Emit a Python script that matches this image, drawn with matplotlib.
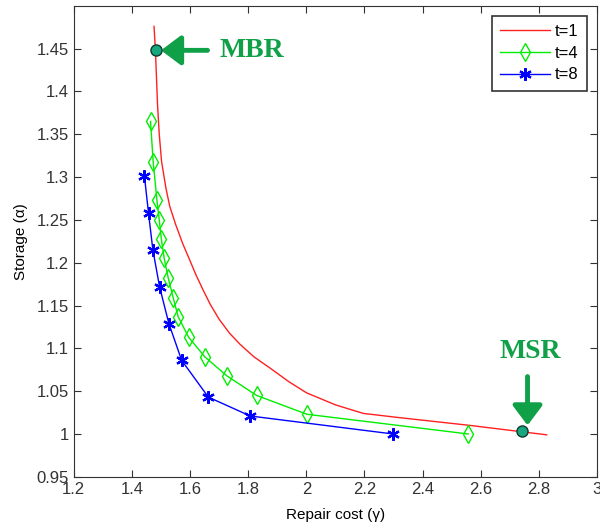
import matplotlib.pyplot as plt
import numpy as np

plt.rcParams['font.family'] = ['Liberation Sans', 'DejaVu Sans']

# t=1 tradeoff curve
t1_x = [1.476, 1.481, 1.484, 1.488, 1.494, 1.502, 1.517, 1.530, 1.550, 1.575,
        1.599, 1.620, 1.645, 1.670, 1.700, 1.735, 1.771, 1.820, 1.875, 1.940,
        2.001, 2.100, 2.196, 2.322, 2.563, 2.827]
t1_y = [1.476, 1.447, 1.420, 1.385, 1.350, 1.318, 1.287, 1.266, 1.245, 1.222,
        1.203, 1.186, 1.168, 1.151, 1.134, 1.118, 1.105, 1.090, 1.077, 1.061,
        1.048, 1.034, 1.024, 1.019, 1.010, 0.999]

# t=4
t4_x = [1.464, 1.473, 1.486, 1.494, 1.501, 1.511, 1.525, 1.542, 1.559, 1.595,
        1.651, 1.726, 1.829, 2.002, 2.557]
t4_y = [1.365, 1.318, 1.273, 1.250, 1.228, 1.205, 1.182, 1.159, 1.137, 1.113,
        1.090, 1.068, 1.045, 1.023, 1.000]

# t=8
t8_x = [1.443, 1.457, 1.472, 1.495, 1.527, 1.571, 1.663, 1.807, 2.298]
t8_y = [1.301, 1.258, 1.215, 1.172, 1.129, 1.086, 1.043, 1.021, 1.000]

mbr = (1.482, 1.448)
msr = (2.741, 1.004)
ann_green = '#10a048'

fig = plt.figure(figsize=(6.0, 5.28), dpi=100)
ax = fig.add_axes([0.123, 0.097, 0.872, 0.892])

ax.plot(t1_x, t1_y, color='#ff2020', lw=1.0, label='t=1')
ax.plot(t4_x, t4_y, color='#00ee00', lw=1.0, marker='d', ms=9, mfc='none',
        mew=1.0, label='t=4')
ax.plot(t8_x, t8_y, color='blue', lw=1.0, marker=(6, 2, 0), ms=9, mew=1.6,
        label='t=8')

ax.plot(*mbr, 'o', ms=8, mfc='#17a67e', mec='#0b3b2c', mew=1.0, zorder=5)
ax.plot(*msr, 'o', ms=8, mfc='#17a67e', mec='#0b3b2c', mew=1.0, zorder=5)

arrow = dict(arrowstyle='-|>,head_width=0.45,head_length=0.6',
             mutation_scale=20, color=ann_green, lw=3.5, shrinkA=0, shrinkB=0)
ax.annotate('', xy=(mbr[0] + 0.018, mbr[1]), xytext=(1.66, mbr[1]),
            arrowprops=arrow)
ax.text(1.70, mbr[1], 'MBR', color=ann_green, fontsize=20, fontweight='bold',
        family='Liberation Serif', va='center', ha='left')
ax.annotate('', xy=(2.761, 1.010), xytext=(2.761, 1.067), arrowprops=arrow)
ax.text(2.77, 1.096, 'MSR', color=ann_green, fontsize=20,
        fontweight='bold', family='Liberation Serif', va='center', ha='center')

ax.set_xlim(1.2, 3.0)
ax.set_ylim(0.95, 1.5)
ax.set_xticks(np.arange(1.2, 3.01, 0.2))
ax.set_xticklabels(['1.2', '1.4', '1.6', '1.8', '2', '2.2', '2.4', '2.6', '2.8', '3'])
ax.set_yticks(np.arange(0.95, 1.46, 0.05))
ax.set_yticklabels(['0.95', '1', '1.05', '1.1', '1.15', '1.2', '1.25', '1.3',
                    '1.35', '1.4', '1.45'])
ax.tick_params(direction='in', top=True, right=True, labelsize=12, length=5,
               colors='#333333')
ax.set_xlabel('Repair cost (γ)', fontsize=11, labelpad=8)
ax.set_ylabel('Storage (α)', fontsize=11, labelpad=6)
for s in ax.spines.values():
    s.set_color('#333333')

leg = ax.legend(loc='upper right', fontsize=12, handlelength=3.0,
                fancybox=False, edgecolor='#333333', framealpha=1,
                borderaxespad=0.6, labelspacing=0.4, handletextpad=0.3,
                borderpad=0.5)
leg.get_frame().set_linewidth(1.2)

fig.savefig('out.png', dpi=100)
